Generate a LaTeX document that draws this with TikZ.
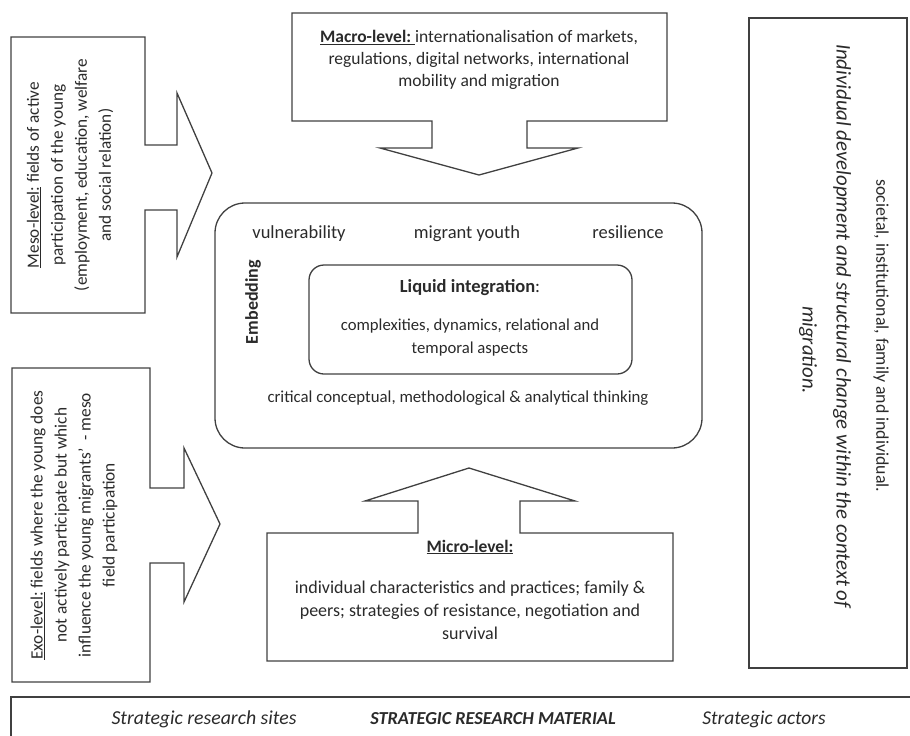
\documentclass[tikz,border=0pt]{standalone}
\usepackage{fontspec}
\setmainfont{Carlito}
\definecolor{ln}{HTML}{404040}
\definecolor{tx}{HTML}{2A2A2A}
\begin{document}
\begin{tikzpicture}[x=1pt,y=-1pt,
  outline/.style={draw=ln, line width=1.3pt, line join=miter},
  txt/.style={text=tx, font=\fontsize{17.5}{22}\selectfont, align=center, inner sep=0pt}]
\useasboundingbox (0,0) rectangle (910,736);
% Meso block arrow
\draw[outline] (11,37) -- (145,37) -- (145,145) -- (177,145) -- (177,93) -- (212,173) -- (177,257) -- (177,210) -- (145,210) -- (145,313) -- (11,313) -- cycle;
% Exo block arrow
\draw[outline] (12,368) -- (150,368) -- (150,488) -- (184,488) -- (184,448) -- (220,524) -- (184,602) -- (184,563) -- (150,563) -- (150,682) -- (12,682) -- cycle;
% Macro block arrow
\draw[outline] (292,13) -- (667,13) -- (667,121) -- (527,121) -- (527,148) -- (578,148) -- (479,175) -- (380,148) -- (432,148) -- (432,121) -- (292,121) -- cycle;
% Micro block arrow
\draw[outline] (267,533) -- (418,533) -- (418,501) -- (365,501) -- (469,468) -- (575,501) -- (520,501) -- (520,533) -- (673,533) -- (673,661) -- (267,661) -- cycle;
% central boxes
\draw[outline, rounded corners=30pt] (215,203) rectangle (702,448);
\draw[outline, rounded corners=15pt] (309,265) rectangle (632,374);
% right box
\draw[outline] (749,18) rectangle (907,668);
% bottom bar
\draw[outline] (11,697) rectangle (925,750);

% texts
\node[txt] (macro) at (479,60) {\underline{\textbf{Macro-level:}\ }internationalisation of markets,\\ regulations, digital networks, international\\ mobility and migration};
\node[txt, rotate=90, font=\fontsize{17.2}{24}\selectfont] (meso) at (70,175) {\underline{Meso-level:} fields of active\\ participation of the young\\ (employment, education, welfare\\ and social relation)};
\node[txt, rotate=90, font=\fontsize{17.3}{24}\selectfont] (exo) at (74,525) {\underline{Exo-level:} fields where the young does\\ not actively participate but which\\ influence the young migrants’ \ - meso\\ field participation};

\node[txt, anchor=base, font=\fontsize{18.5}{22}\selectfont] (vul) at (299,238) {vulnerability};
\node[txt, anchor=base, font=\fontsize{18.5}{22}\selectfont] (mig) at (467,238) {migrant youth};
\node[txt, anchor=base, font=\fontsize{18.5}{22}\selectfont] (res) at (628,238) {resilience};
\node[txt, rotate=90, font=\bfseries\fontsize{18}{22}\selectfont] (emb) at (253,302) {Embedding};
\node[txt, anchor=base, font=\fontsize{18.5}{22}\selectfont] (liq) at (470,292) {\textbf{Liquid integration}:};
\node[txt, font=\fontsize{16.7}{23}\selectfont] (cx) at (470,338) {complexities, dynamics, relational and\\ temporal aspects};
\node[txt, anchor=base, font=\fontsize{16.8}{22}\selectfont] (crit) at (458,402) {critical conceptual, methodological \& analytical thinking};

\node[txt, anchor=base] (mic) at (470,552) {\underline{\textbf{Micro-level:}}};
\node[txt, font=\fontsize{18}{23}\selectfont] (micro) at (470,610) {individual characteristics and practices; family \&\\ peers; strategies of resistance, negotiation and\\ survival};

\node[txt, rotate=-90, font=\fontsize{17.8}{22}\selectfont] (soc) at (881,336) {societal, institutional, family and individual.};
\node[txt, rotate=-90, font=\itshape\fontsize{20.8}{24}\selectfont] (ind) at (842,326) {Individual development and structural change within the context of};
\node[txt, rotate=-90, font=\itshape\fontsize{20.8}{24}\selectfont] (migr) at (808,350) {migration.};

\node[txt, anchor=base, font=\itshape\fontsize{19.8}{22}\selectfont] (sites) at (204,724) {Strategic research sites};
\node[txt, anchor=base, font=\bfseries\itshape\fontsize{18.3}{22}\selectfont] (mat) at (493,724) {STRATEGIC RESEARCH MATERIAL};
\node[txt, anchor=base, font=\itshape\fontsize{19.5}{22}\selectfont] (act) at (764,724) {Strategic actors};
\end{tikzpicture}
\end{document}
